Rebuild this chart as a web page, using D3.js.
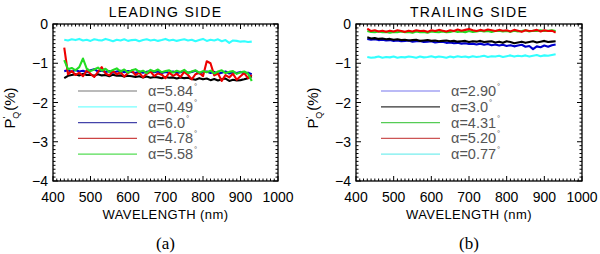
<!DOCTYPE html>
<html>
<head>
<meta charset="utf-8">
<title>Leading / Trailing side</title>
<script src="https://d3js.org/d3.v7.min.js"></script>
<style>
  body { margin: 0; background: #fff; }
  text { font-family: "Liberation Sans", Arial, sans-serif; }
</style>
</head>
<body>
<svg width="600" height="254"></svg>
<script>
// wavelength grid (nm)
var wavelength = [430,440,450,460,470,480,490,500,510,520,530,540,550,560,570,580,590,600,610,620,
  630,640,650,660,670,680,690,700,710,720,730,740,750,760,770,780,790,800,810,820,
  830,840,850,860,870,880,890,900,910,920,930];

var xTicks = [400, 500, 600, 700, 800, 900, 1000];
var yTicks = [0, -1, -2, -3, -4];

// leading side
var leadLabels = ["5.84", "0.49", "6.0", "4.78", "5.58"];
var leadColors = ["#000000", "#33ffff", "#0000cc", "#ee0000", "#22dd22"];
var leadLegendColors = ["#777777", "#77ffff", "#4444aa", "#cc4444", "#55dd55"];
var lead584 = [-1.38,-1.32,-1.30,-1.28,-1.31,-1.27,-1.30,-1.29,-1.32,-1.28,
  -1.31,-1.30,-1.33,-1.29,-1.32,-1.31,-1.34,-1.32,-1.33,-1.35,
  -1.33,-1.36,-1.34,-1.37,-1.35,-1.36,-1.38,-1.35,-1.37,-1.36,
  -1.39,-1.36,-1.38,-1.37,-1.40,-1.42,-1.38,-1.41,-1.39,-1.43,
  -1.40,-1.44,-1.41,-1.39,-1.45,-1.42,-1.44,-1.43,-1.41,-1.38,-1.33];
var lead049 = [-0.40,-0.42,-0.39,-0.41,-0.38,-0.42,-0.40,-0.43,-0.39,-0.41,
  -0.42,-0.38,-0.41,-0.44,-0.40,-0.42,-0.39,-0.43,-0.41,-0.40,
  -0.44,-0.41,-0.39,-0.42,-0.40,-0.43,-0.41,-0.38,-0.42,-0.40,
  -0.43,-0.41,-0.39,-0.42,-0.40,-0.44,-0.41,-0.38,-0.43,-0.40,
  -0.42,-0.39,-0.44,-0.41,-0.48,-0.42,-0.43,-0.45,-0.44,-0.46,-0.45];
var lead600 = [-1.20,-1.18,-1.22,-1.17,-1.21,-1.19,-1.23,-1.18,-1.15,-1.21,
  -1.19,-1.22,-1.20,-1.24,-1.21,-1.19,-1.23,-1.20,-1.22,-1.25,
  -1.21,-1.24,-1.22,-1.20,-1.23,-1.21,-1.25,-1.22,-1.24,-1.21,
  -1.25,-1.23,-1.20,-1.24,-1.22,-1.19,-1.26,-1.23,-1.21,-1.25,
  -1.22,-1.27,-1.24,-1.21,-1.26,-1.23,-1.25,-1.22,-1.26,-1.24,-1.28];
var lead478 = [-0.60,-1.28,-1.20,-1.30,-1.24,-1.33,-1.18,-1.27,-1.35,-1.22,
  -1.10,-1.26,-1.31,-1.20,-1.28,-1.23,-1.34,-1.25,-1.19,-1.30,
  -1.24,-1.36,-1.27,-1.21,-1.33,-1.26,-1.29,-1.38,-1.24,-1.32,
  -1.27,-1.35,-1.22,-1.30,-1.41,-1.28,-1.24,-1.33,-0.95,-1.00,
  -1.31,-1.26,-1.45,-1.30,-1.36,-1.27,-1.42,-1.33,-1.25,-1.38,-1.30];
var lead558 = [-0.92,-1.15,-1.12,-1.18,-1.10,-0.88,-1.14,-1.20,-1.16,-1.11,
  -1.19,-1.14,-1.22,-1.17,-1.13,-1.21,-1.16,-1.24,-1.18,-1.15,
  -1.22,-1.19,-1.25,-1.17,-1.21,-1.16,-1.23,-1.20,-1.18,-1.24,
  -1.19,-1.22,-1.17,-1.25,-1.21,-1.18,-1.24,-1.20,-1.23,-1.19,
  -1.26,-1.21,-1.18,-1.25,-1.22,-1.20,-1.27,-1.23,-1.21,-1.26,-1.45];

// trailing side
var trailLabels = ["2.90", "3.0", "4.31", "5.20", "0.77"];
var trailColors = ["#0000cc", "#000000", "#22dd22", "#ee0000", "#33ffff"];
var trailLegendColors = ["#7777ee", "#333333", "#55cc55", "#cc5555", "#77eeee"];
var trail290 = [-0.38,-0.40,-0.39,-0.41,-0.40,-0.42,-0.41,-0.43,-0.42,-0.44,
  -0.43,-0.42,-0.45,-0.44,-0.43,-0.46,-0.45,-0.44,-0.47,-0.46,
  -0.45,-0.48,-0.47,-0.49,-0.48,-0.50,-0.49,-0.51,-0.50,-0.52,
  -0.50,-0.53,-0.51,-0.54,-0.52,-0.55,-0.53,-0.56,-0.54,-0.57,
  -0.55,-0.53,-0.58,-0.56,-0.64,-0.57,-0.59,-0.55,-0.58,-0.54,-0.52];
var trail30 = [-0.34,-0.37,-0.36,-0.38,-0.37,-0.39,-0.38,-0.40,-0.39,-0.41,
  -0.40,-0.42,-0.41,-0.40,-0.43,-0.42,-0.41,-0.43,-0.42,-0.44,
  -0.43,-0.42,-0.44,-0.43,-0.45,-0.44,-0.43,-0.46,-0.44,-0.45,
  -0.43,-0.46,-0.45,-0.44,-0.47,-0.45,-0.48,-0.44,-0.46,-0.49,
  -0.47,-0.45,-0.48,-0.46,-0.44,-0.47,-0.45,-0.43,-0.46,-0.45,-0.44];
var trail431 = [-0.18,-0.20,-0.21,-0.19,-0.21,-0.20,-0.22,-0.20,-0.21,-0.19,
  -0.21,-0.20,-0.22,-0.19,-0.21,-0.20,-0.22,-0.19,-0.20,-0.21,
  -0.19,-0.21,-0.20,-0.18,-0.20,-0.19,-0.21,-0.18,-0.20,-0.19,
  -0.17,-0.19,-0.18,-0.20,-0.18,-0.17,-0.19,-0.18,-0.20,-0.17,
  -0.19,-0.18,-0.16,-0.19,-0.17,-0.18,-0.16,-0.18,-0.17,-0.16,-0.18];
var trail520 = [-0.12,-0.18,-0.16,-0.19,-0.17,-0.20,-0.17,-0.19,-0.16,-0.18,
  -0.20,-0.17,-0.19,-0.16,-0.18,-0.17,-0.20,-0.16,-0.18,-0.15,
  -0.17,-0.19,-0.16,-0.18,-0.14,-0.17,-0.15,-0.13,-0.16,-0.18,
  -0.15,-0.17,-0.14,-0.16,-0.18,-0.15,-0.17,-0.16,-0.19,-0.15,
  -0.17,-0.20,-0.16,-0.18,-0.17,-0.15,-0.19,-0.16,-0.18,-0.17,-0.22];
var trail077 = [-0.84,-0.86,-0.85,-0.83,-0.86,-0.84,-0.85,-0.83,-0.86,-0.84,
  -0.85,-0.83,-0.84,-0.86,-0.83,-0.85,-0.84,-0.82,-0.85,-0.83,
  -0.84,-0.86,-0.83,-0.85,-0.82,-0.84,-0.83,-0.85,-0.82,-0.84,
  -0.83,-0.81,-0.84,-0.82,-0.83,-0.81,-0.84,-0.82,-0.80,-0.83,
  -0.81,-0.82,-0.80,-0.83,-0.81,-0.79,-0.82,-0.80,-0.81,-0.79,-0.77];

var svg = d3.select("svg");

function drawPanel(opt) {
  var x = d3.scaleLinear().domain([400, 1000]).range([opt.left, opt.right]);
  var y = d3.scaleLinear().domain([-4, 0]).range([181, 24]);
  var g = svg.append("g");

  // frame
  g.append("rect")
    .attr("x", opt.left).attr("y", 24)
    .attr("width", opt.right - opt.left).attr("height", 157)
    .attr("fill", "none").attr("stroke", "#000").attr("stroke-width", 1.3);

  // ticks on all four sides, pointing inward
  var xMinor = d3.range(400, 1001, 10);
  var yMinor = d3.range(-40, 1, 1).map(function(d) { return d / 10; });
  xMinor.forEach(function(v) {
    var len = (v % 100 === 0) ? 5 : 2.5;
    g.append("line").attr("x1", x(v)).attr("x2", x(v)).attr("y1", 181).attr("y2", 181 - len)
      .attr("stroke", "#000").attr("stroke-width", 1);
    g.append("line").attr("x1", x(v)).attr("x2", x(v)).attr("y1", 24).attr("y2", 24 + len)
      .attr("stroke", "#000").attr("stroke-width", 1);
  });
  yMinor.forEach(function(v) {
    var len = (Math.abs(v - Math.round(v)) < 1e-6) ? 5 : 2.5;
    g.append("line").attr("x1", opt.left).attr("x2", opt.left + len).attr("y1", y(v)).attr("y2", y(v))
      .attr("stroke", "#000").attr("stroke-width", 1);
    g.append("line").attr("x1", opt.right).attr("x2", opt.right - len).attr("y1", y(v)).attr("y2", y(v))
      .attr("stroke", "#000").attr("stroke-width", 1);
  });

  // tick labels
  g.selectAll(".xl").data(xTicks).enter().append("text")
    .attr("x", function(d) { return x(d); }).attr("y", 202)
    .attr("text-anchor", "middle").attr("font-size", 14)
    .text(function(d) { return d; });
  g.selectAll(".yl").data(yTicks).enter().append("text")
    .attr("x", opt.left - 5).attr("y", function(d) { return y(d) + 5; })
    .attr("text-anchor", "end").attr("font-size", 14)
    .text(function(d) { return d === 0 ? "0" : "\u2212" + Math.abs(d); });

  // titles
  var cx = (opt.left + opt.right) / 2;
  g.append("text").attr("x", cx).attr("y", 17).attr("text-anchor", "middle")
    .attr("font-size", 14).attr("letter-spacing", 1.3).text(opt.title);
  g.append("text").attr("x", cx).attr("y", 219).attr("text-anchor", "middle")
    .attr("font-size", 13).attr("letter-spacing", 0.4).text("WAVELENGTH (nm)");
  g.append("text").attr("x", cx).attr("y", 249).attr("text-anchor", "middle")
    .style("font-family", "'Liberation Serif', 'Times New Roman', serif")
    .attr("font-size", 17).text(opt.tag);

  var yl = g.append("text")
    .attr("transform", "translate(" + (opt.left - 38) + ",108) rotate(-90)")
    .attr("text-anchor", "middle").attr("font-size", 15);
  yl.append("tspan").text("P");
  yl.append("tspan").attr("font-size", 9).attr("dy", -6).text("'");
  yl.append("tspan").attr("font-size", 9).attr("dx", -2).attr("dy", 10).text("Q");
  yl.append("tspan").attr("dy", -4).attr("dx", 1).text("(%)");

  // data
  var line = d3.line()
    .x(function(d) { return x(d[0]); })
    .y(function(d) { return y(d[1]); });
  opt.series.forEach(function(s, i) {
    g.append("path")
      .datum(wavelength.map(function(w, j) { return [w, s[j]]; }))
      .attr("d", line)
      .attr("fill", "none")
      .attr("stroke", opt.colors[i])
      .attr("stroke-width", 2.1)
      .attr("stroke-linejoin", "round");
  });

  // legend
  opt.labels.forEach(function(lab, i) {
    var ly = 91 + i * 15.8;
    g.append("line")
      .attr("x1", opt.left + 25).attr("x2", opt.left + 84)
      .attr("y1", ly).attr("y2", ly)
      .attr("stroke", opt.legendColors[i]).attr("stroke-width", 1.2);
    var t = g.append("text").attr("x", opt.left + 95).attr("y", ly + 5)
      .attr("font-size", 14.5).attr("fill", "#555");
    t.append("tspan").text("\u03b1=" + lab);
    t.append("tspan").attr("font-size", 8).attr("dy", -7).attr("dx", 1).text("\u00b0");
  });
}

drawPanel({
  left: 53, right: 278, title: "LEADING SIDE", tag: "(a)",
  series: [lead584, lead049, lead600, lead478, lead558],
  labels: leadLabels, colors: leadColors, legendColors: leadLegendColors
});
drawPanel({
  left: 356, right: 582, title: "TRAILING SIDE", tag: "(b)",
  series: [trail290, trail30, trail431, trail520, trail077],
  labels: trailLabels, colors: trailColors, legendColors: trailLegendColors
});
</script>
</body>
</html>
